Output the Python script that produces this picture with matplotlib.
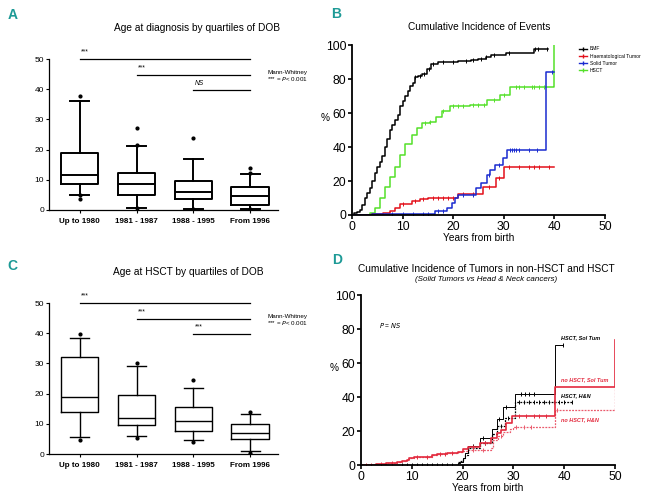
import numpy as np
import matplotlib
matplotlib.use('Agg')
import matplotlib.pyplot as plt

plt.rcParams['font.family'] = ['Liberation Sans', 'DejaVu Sans']

groups = ['Up to 1980', '1981 - 1987', '1988 - 1995', 'From 1996']

# A: age at diagnosis by DOB quartile
diag_low = [5, 0.5, 0.3, 0.3]
diag_q1 = [8.5, 5, 3.5, 1.8]
diag_med = [11.5, 8.5, 5.8, 4.6]
diag_q3 = [19, 12.3, 9.5, 7.6]
diag_high = [36, 21.2, 17, 11.8]
diag_out = [[37.8, 3.5, 4.8], [27, 21.5, 0.8], [24, 0.4], [14, 12.3, 0.3]]
diag_sig = ['***', '***', 'NS']

# C: age at HSCT by DOB quartile
hsct_low = [5.5, 6, 4.5, 1]
hsct_q1 = [13.8, 9.5, 7.6, 5]
hsct_med = [19, 12, 11, 7]
hsct_q3 = [32, 19.5, 15.5, 10]
hsct_high = [38.5, 29, 22, 13.2]
hsct_out = [[39.8, 4.8], [30, 5.3], [24.5, 4.0], [14, 0.5]]
hsct_sig = ['***', '***', '***']

sig_levels = [50, 44.7, 39.6]

# B: cumulative incidence of events (years, %)
bmf_t = [0, 0.5, 1, 1.5, 2, 2.5, 3, 3.5, 4, 4.5, 5, 5.5, 6, 6.5, 7, 7.5, 8, 8.5, 9, 9.5,
         10, 10.5, 11, 11.5, 12, 12.5, 13, 13.8, 14.8, 15.7, 17, 21, 23.5, 25, 26.5,
         27.5, 30.5, 36, 38.8]
bmf_y = [0, 1, 2, 3, 6, 10, 13, 16, 20, 25, 28, 31, 35, 40, 45, 50, 53, 56, 59, 64,
         67, 70, 73, 76, 78, 81, 82, 83, 86, 89, 90, 90.5, 91, 92, 93, 94, 95.5, 97.5, 97.5]
bmf_cens = [12.5, 13.5, 14.3, 15.2, 16, 18, 20, 22.5, 24, 25.5, 26.5, 28, 31, 36.2, 36.8, 38.5]

hem_t = [0, 4, 6.2, 7.5, 8.5, 9.5, 11.8, 13.4, 15.1, 21, 25.9, 28.4, 30, 40]
hem_y = [0, 0.5, 1, 2.5, 4, 6.5, 8.4, 9.2, 9.8, 12.4, 16.7, 21.6, 28.4, 28.4]
hem_cens = [10, 12.5, 14, 16, 17, 18, 19, 20, 22, 24, 27, 29, 31, 33, 35, 36, 37, 39]

sol_t = [0, 4, 16.4, 18.7, 19.7, 20.4, 21, 23.3, 24.6, 25.6, 26.6, 27.3, 28.3, 29.9, 30.7, 38.4, 40]
sol_y = [0, 0.5, 2.5, 4, 6.9, 9.8, 11.5, 12, 15.7, 18.6, 23.5, 26.5, 29.4, 33.3, 38, 84.3, 84.3]
sol_cens = [8, 10, 12, 14, 15, 17, 18, 22, 24, 27, 29, 31.2, 31.6, 32, 32.4, 33, 35, 36.5, 39.5]

hsc_t = [0, 3.6, 4.5, 5.5, 6.5, 7.5, 8.5, 9.5, 10.5, 11.8, 12.8, 13.8, 15.4, 16.7, 17.7,
         19.4, 23.3, 26.6, 29.2, 31.2, 39.8, 40]
hsc_y = [0, 1, 4, 10, 16.7, 22.5, 28.4, 35.3, 42, 47, 51, 54, 55, 58, 61, 64, 64.7,
         67.6, 70.6, 75.5, 75.5, 100]
hsc_cens = [14.5, 15.5, 18, 20, 21, 22, 24, 25, 26, 28, 30, 32.5, 33, 34, 35.5, 36, 37, 38]

# D: tumors in non-HSCT and HSCT
nos_t = [0, 3, 5, 7, 8, 9, 9.5, 10.5, 12, 14, 15, 17, 19, 20, 21, 23.5, 25.5, 26.8, 27.5,
         28.5, 29.7, 38.2, 50]
nos_y = [0, 0.5, 1, 1.5, 2.5, 3, 4, 4.5, 5, 6, 6.5, 7, 7.5, 9.4, 10.8, 13, 16, 18.6, 20.6,
         24.5, 28.8, 46, 73.5]
nos_cens = [1, 2, 4, 6, 11, 13, 15.5, 16.5, 18, 22, 24.5, 31, 32.5, 34, 35, 36.5]

noh_t = [0, 3, 5, 7, 8, 9, 9.5, 10.5, 12, 14, 15, 17, 19, 20, 21, 25.5, 26, 27, 28, 29.3,
         30, 38.2, 50]
noh_y = [0, 0.5, 1, 1.5, 2.5, 3, 4, 4.5, 5, 6, 6.5, 7, 7.5, 8.5, 9, 10, 15, 17, 19.6, 21,
         22.4, 32.4, 46]
noh_cens = [22, 24, 27.5, 30.5, 32, 33.5, 38.5]

hs_t = [0, 19, 19.5, 20, 20.5, 21, 23.4, 25.8, 26.8, 28, 30.3, 38.2, 39.8]
hs_y = [0, 1, 2, 4, 7, 11, 16, 21, 27, 34, 42, 70.6, 70.6]
hs_cens = [8, 10, 12, 14, 16, 18, 22, 24, 27.2, 28.5, 31.5, 32.3, 33, 34, 39.8]

hh_t = [0, 19, 19.5, 20, 20.5, 21, 23.4, 25.8, 26.8, 28.3, 30.3, 41.5]
hh_y = [0, 1.5, 2.5, 4, 6, 10, 13, 18, 23, 27.5, 37, 37]
hh_cens = [9, 11, 13, 15, 17, 22, 24.5, 27.5, 29, 31, 32, 33, 34, 35, 36, 37, 38, 39, 40, 41.5]

teal = '#1d9a96'
red_b = '#e3101a'
blue_b = '#1a2bd0'
green_b = '#55e02a'
red_d = '#e32a3e'


def step_curve(ax, t, y, cens, color, ls='-', lw=1.0):
    ax.step(t, y, where='post', color=color, ls=ls, lw=lw)
    t = np.array(t)
    y = np.array(y)
    idx = np.searchsorted(t, cens, side='right') - 1
    ax.plot(cens, y[idx], ls='none', marker='|', ms=2.5, mew=0.7, color=color)


def box_panel(ax, low, q1, med, q3, high, out, sig, lw):
    stats = []
    for i in range(len(groups)):
        stats.append({'whislo': low[i], 'q1': q1[i], 'med': med[i], 'q3': q3[i],
                      'whishi': high[i], 'fliers': out[i]})
    ax.bxp(stats, positions=range(len(groups)), widths=0.66,
           boxprops=dict(lw=lw, color='black'), medianprops=dict(lw=lw, color='black'),
           whiskerprops=dict(lw=lw, color='black'), capprops=dict(lw=lw, color='black'),
           flierprops=dict(marker='o', ms=2, mfc='black', mec='black'))
    ax.set_xlim(-0.54, 3.49)
    ax.set_ylim(0, 50)
    ax.set_yticks([0, 10, 20, 30, 40, 50])
    ax.set_xticks(range(len(groups)))
    ax.set_xticklabels(groups, fontsize=5.8, fontweight='bold')
    ax.tick_params(axis='y', labelsize=6, length=2.5, width=0.8, pad=1)
    ax.tick_params(axis='x', length=2, width=0.8, pad=4)
    for s in ['top', 'right']:
        ax.spines[s].set_visible(False)
    for s in ['left', 'bottom']:
        ax.spines[s].set_linewidth(0.9)
    for i, lev in enumerate(sig_levels):
        ax.plot([i, 3], [lev, lev], color='black', lw=0.9, clip_on=False)
        ax.text(i + 0.02, lev + 1.2, sig[i], fontsize=4.8, ha='left', va='bottom',
                style='italic' if sig[i] == 'NS' else 'normal')
    ax.text(3.3, 46.5, 'Mann-Whitney\n*** = $P$< 0.001', fontsize=4.5, ha='left', va='top',
            linespacing=1.1)


def km_axes(ax):
    ax.set_xlim(0, 50)
    ax.set_ylim(0, 100)
    ax.set_xticks([0, 10, 20, 30, 40, 50])
    ax.set_yticks([0, 20, 40, 60, 80, 100])
    ax.tick_params(labelsize=8.7, length=3, width=1.2, pad=1)
    for s in ['top', 'right']:
        ax.spines[s].set_visible(False)
    for s in ['left', 'bottom']:
        ax.spines[s].set_linewidth(1.3)
    ax.set_xlabel('Years from birth', fontsize=7.3, labelpad=0.5)
    ax.text(-0.105, 0.57, '%', transform=ax.transAxes, fontsize=7.3, ha='center', va='center')


fig = plt.figure(figsize=(6.47, 4.95), dpi=100)

axA = fig.add_axes([0.0757, 0.5758, 0.354, 0.305])
box_panel(axA, diag_low, diag_q1, diag_med, diag_q3, diag_high, diag_out, diag_sig, 1.4)
axA.text(0.646, 1.205, 'Age at diagnosis by quartiles of DOB', transform=axA.transAxes,
         fontsize=7.3, ha='center', va='center')

axC = fig.add_axes([0.0757, 0.0828, 0.354, 0.305])
box_panel(axC, hsct_low, hsct_q1, hsct_med, hsct_q3, hsct_high, hsct_out, hsct_sig, 1.0)
axC.text(0.607, 1.205, 'Age at HSCT by quartiles of DOB', transform=axC.transAxes,
         fontsize=7.3, ha='center', va='center')

axB = fig.add_axes([0.544, 0.5657, 0.391, 0.343])
step_curve(axB, bmf_t, bmf_y, bmf_cens, 'black', lw=1.1)
step_curve(axB, hsc_t, hsc_y, hsc_cens, green_b, lw=1.1)
step_curve(axB, hem_t, hem_y, hem_cens, red_b, lw=1.1)
step_curve(axB, sol_t, sol_y, sol_cens, blue_b, lw=1.1)
km_axes(axB)
axB.text(0.502, 1.11, 'Cumulative Incidence of Events', transform=axB.transAxes,
         fontsize=7.3, ha='center', va='center')
handles = [plt.Line2D([], [], color=c, lw=1, marker='|', ms=2.5) for c in
           ['black', red_b, blue_b, green_b]]
axB.legend(handles, ['BMF', 'Haematological Tumor', 'Solid Tumor', 'HSCT'], fontsize=3.6,
           frameon=False, loc='upper left', bbox_to_anchor=(0.88, 1.02), handlelength=1.6,
           labelspacing=0.45, handletextpad=0.6)

axD = fig.add_axes([0.558, 0.0606, 0.3926, 0.343])
step_curve(axD, hh_t, hh_y, hh_cens, 'black', ls=(0, (1.5, 1)), lw=0.9)
step_curve(axD, noh_t, noh_y, noh_cens, '#ea5a6c', ls=(0, (1.5, 1)), lw=0.9)
step_curve(axD, hs_t, hs_y, hs_cens, 'black', lw=0.7)
step_curve(axD, nos_t, nos_y, nos_cens, red_d, lw=1.2)
km_axes(axD)
axD.text(0.494, 1.155, 'Cumulative Incidence of Tumors in non-HSCT and HSCT',
         transform=axD.transAxes, fontsize=7.3, ha='center', va='center')
axD.text(0.494, 1.09, '(Solid Tumors vs Head & Neck cancers)', transform=axD.transAxes,
         fontsize=5.8, ha='center', va='center', style='italic')
axD.text(3.5, 82, '$P$ = $NS$', fontsize=4.8, ha='left', va='center')
for lab, yy, c in [('HSCT, Sol Tum', 75, 'black'), ('no HSCT, Sol Tum', 50, red_d),
                   ('HSCT, H&N', 41, 'black'), ('no HSCT, H&N', 27, red_d)]:
    axD.text(39.3, yy, lab, fontsize=4, ha='left', va='center', color=c,
             style='italic', fontweight='bold')

for lab, x, y in [('A', 0.012, 0.970), ('B', 0.512, 0.972), ('C', 0.012, 0.463),
                  ('D', 0.513, 0.475)]:
    fig.text(x, y, lab, fontsize=10, fontweight='bold', color=teal, ha='left', va='center')

fig.savefig('out.png', dpi=100)
